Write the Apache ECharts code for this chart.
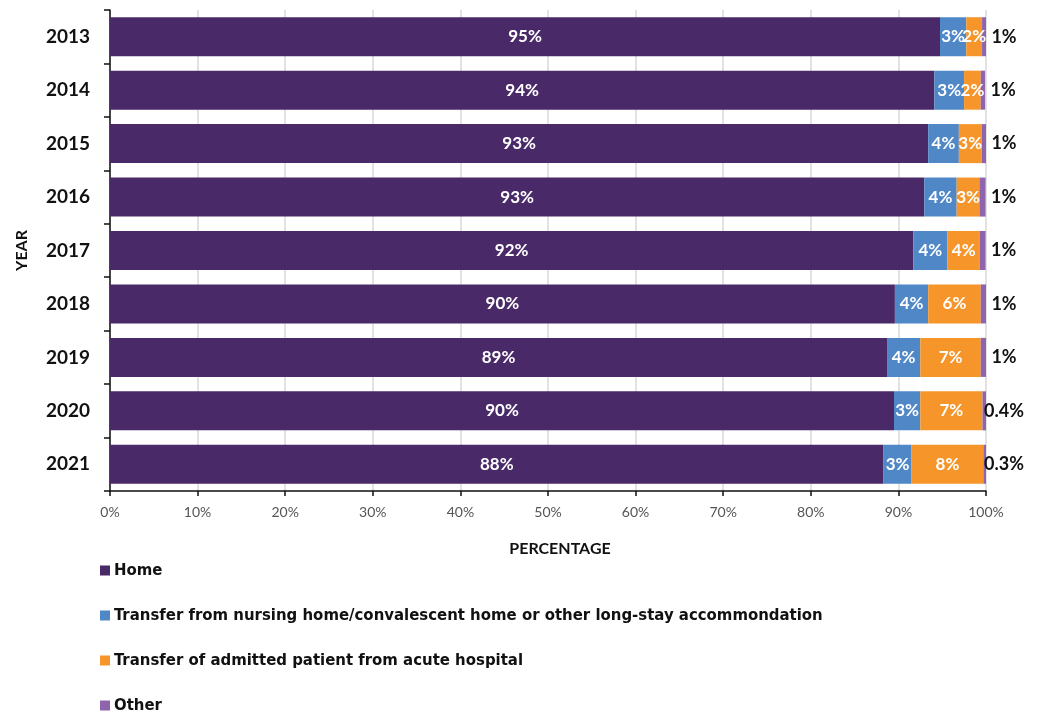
<!DOCTYPE html>
<html>
<head>
<meta charset="utf-8">
<script src="https://cdn.jsdelivr.net/npm/echarts@6/dist/echarts.min.js"></script>
<style>html,body{margin:0;padding:0;background:#fff}#c{width:1040px;height:717px}</style>
</head>
<body>
<div id="c"></div>
<script>
var years = ['2013','2014','2015','2016','2017','2018','2019','2020','2021'];
var home = [94.75, 94.1, 93.4, 92.95, 91.7, 89.6, 88.7, 89.5, 88.3];
var nursing = [3.0, 3.4, 3.5, 3.7, 3.9, 3.8, 3.8, 3.0, 3.2];
var acute = [1.8, 1.9, 2.6, 2.6, 3.7, 6.0, 6.9, 7.1, 8.2];
var other = [0.5, 0.5, 0.5, 0.7, 0.65, 0.6, 0.6, 0.4, 0.3];
var seriesNames = ['Home', 'Transfer from nursing home/convalescent home or other long-stay accommondation', 'Transfer of admitted patient from acute hospital', 'Other'];
var xTicks = [0,10,20,30,40,50,60,70,80,90,100];

function fmt(p){
  var v = p.value;
  if (v < 0.45) return v.toFixed(1) + '%';
  return Math.round(v) + '%';
}
var inLabel = {show:true, position:'inside', color:'#fff', fontFamily:'Lato', fontWeight:'bold', fontSize:17, formatter:fmt};
var chart = echarts.init(document.getElementById('c'), null, {renderer:'canvas'});
chart.setOption({
  animation:false,
  grid:{left:110, right:54, top:10, bottom:226},
  legend:{
    orient:'vertical', left:100, top:561, padding:0, itemGap:26, itemWidth:10, itemHeight:10, itemGap2:0,
    icon:'rect',
    textStyle:{fontFamily:'DejaVu Sans Condensed', fontWeight:'bold', fontSize:16.6, lineHeight:19, color:'#111', padding:[0,0,0,-1]},
    data:seriesNames
  },
  xAxis:{
    type:'value', min:0, max:100, interval:10,
    name:'PERCENTAGE', nameLocation:'middle', nameGap:50,
    nameTextStyle:{fontFamily:'Lato', fontWeight:'bold', fontSize:16, color:'#111', padding:[0,0,0,24]},
    axisLine:{show:true, lineStyle:{color:'#111', width:1.5}},
    axisTick:{show:true, length:5, lineStyle:{color:'#111', width:1.5}},
    axisLabel:{fontFamily:'Lato', fontSize:14, color:'#555', margin:14, formatter:function(v){return v+'%';}},
    splitLine:{show:true, lineStyle:{color:'#d9d9d9', width:1.5}}
  },
  yAxis:{
    type:'category', data:years, inverse:true,
    name:'YEAR', nameLocation:'middle', nameGap:80, nameRotate:90,
    nameTextStyle:{fontFamily:'Lato', fontWeight:'bold', fontSize:16, color:'#111'},
    axisLine:{show:true, lineStyle:{color:'#111', width:1.5}},
    axisTick:{show:true, length:6, lineStyle:{color:'#111', width:1.5}},
    axisLabel:{fontFamily:'Lato', fontWeight:'bold', fontSize:19, color:'#111', margin:20}
  },
  series:[
    {name:seriesNames[0], type:'bar', stack:'a', data:home, barCategoryGap:'27%', itemStyle:{color:'#4a2968'}, label:inLabel},
    {name:seriesNames[1], type:'bar', stack:'a', data:nursing, itemStyle:{color:'#4f87c7'}, label:inLabel},
    {name:seriesNames[2], type:'bar', stack:'a', data:acute, itemStyle:{color:'#f6962a'}, label:inLabel},
    {name:seriesNames[3], type:'bar', stack:'a', data:other, itemStyle:{color:'#9064ad'},
     label:{show:true, position:['100%','50%'], align:'center', verticalAlign:'middle', offset:[18,0], color:'#111', fontFamily:'Lato', fontWeight:'bold', fontSize:18, formatter:fmt}}
  ]
});
</script>
</body>
</html>
